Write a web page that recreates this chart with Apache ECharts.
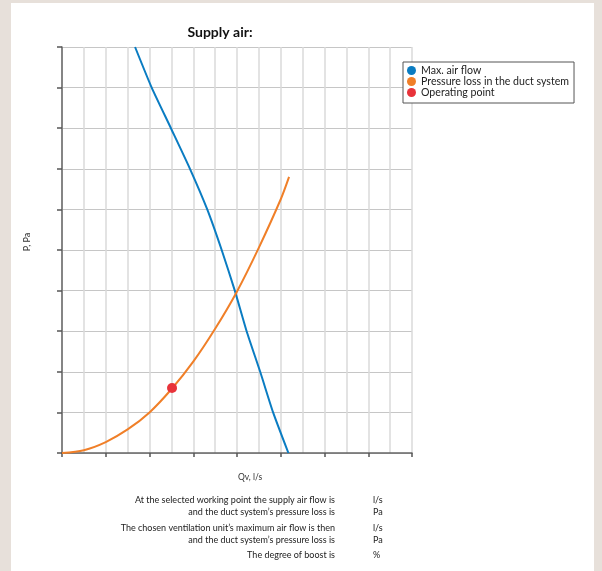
<!DOCTYPE html>
<html>
<head>
<meta charset="utf-8">
<script src="https://cdn.jsdelivr.net/npm/echarts@6/dist/echarts.min.js"></script>
<style>
html,body{margin:0;padding:0;background:#e7e0da;}
#chart{width:602px;height:571px;}
</style>
</head>
<body>
<div id="chart"></div>
<script>
// Data (axis units: grid cells; no numeric labels shown)
const maxFlowQ = [3.34, 4.10, 4.98, 5.85, 6.64, 7.30, 7.90, 8.44, 9.06, 9.65, 10.35];
const maxFlowP = [10, 9, 8, 7, 6, 5, 4, 3, 2, 1, 0];
const lossQ = [0, 1, 2, 3, 4, 5, 6, 7, 8, 9, 10, 10.38];
const lossP = [0, 0.07, 0.27, 0.58, 1.0, 1.57, 2.25, 3.06, 3.98, 5.06, 6.25, 6.8];
const opQ = [5.03];
const opP = [1.6];
const seriesNames = ['Max. air flow', 'Pressure loss in the duct system', 'Operating point'];
const infoLines = [
  'At the selected working point the supply air flow is',
  'and the duct system\u2019s pressure loss is',
  'The chosen ventilation unit\u2019s maximum air flow is then',
  'and the duct system\u2019s pressure loss is',
  'The degree of boost is'
];
const infoUnits = ['l/s', 'Pa', 'l/s', 'Pa', '%'];

const FONT = 'Lato, "Noto Sans", sans-serif';
const zip = (a, b) => a.map((v, i) => [v, b[i]]);
const infoY = [500.5, 512, 528, 540, 555];

const graphics = [
  { type: 'rect', shape: { x: 11, y: 3, width: 583, height: 570 }, style: { fill: '#ffffff' }, z: -10, silent: true },
  { type: 'text', x: 220, y: 32, style: { text: 'Supply air:', font: 'bold 14px ' + FONT, fill: '#111', align: 'center', verticalAlign: 'middle' } },
  { type: 'text', x: 250, y: 477, style: { text: 'Qv, l/s', font: '8.5px ' + FONT, fill: '#333', align: 'center', verticalAlign: 'middle' } },
  { type: 'text', x: 27, y: 242, rotation: Math.PI / 2, style: { text: 'P, Pa', font: '9px ' + FONT, fill: '#333', align: 'center', verticalAlign: 'middle' } }
];
infoLines.forEach((t, i) => {
  graphics.push({ type: 'text', x: 335, y: infoY[i], style: { text: t, font: '9px ' + FONT, fill: '#222', align: 'right', verticalAlign: 'middle' } });
  graphics.push({ type: 'text', x: 373, y: infoY[i], style: { text: infoUnits[i], font: '9px ' + FONT, fill: '#222', align: 'left', verticalAlign: 'middle' } });
});

const chart = echarts.init(document.getElementById('chart'), null, { renderer: 'canvas' });
chart.setOption({
  backgroundColor: '#e7e0da',
  animation: false,
  textStyle: { fontFamily: FONT },
  graphic: graphics,
  grid: { left: 62, top: 47, width: 350, height: 406, containLabel: false },
  legend: {
    orient: 'vertical',
    left: 403, top: 62,
    icon: 'circle',
    itemWidth: 9, itemHeight: 9, itemGap: 0,
    padding: [3, 5, 5, 4],
    borderColor: '#555', borderWidth: 1, borderRadius: 0,
    backgroundColor: '#fff',
    textStyle: { fontSize: 10.6, color: '#222', lineHeight: 10, fontFamily: FONT },
    data: seriesNames
  },
  xAxis: {
    type: 'value', min: 0, max: 16, interval: 2,
    axisLine: { show: true, onZero: false, lineStyle: { color: '#666', width: 1.5 } },
    axisTick: { show: true, length: 4, lineStyle: { color: '#555', width: 1.5 } },
    axisLabel: { show: false },
    splitLine: { show: true, lineStyle: { color: '#dadada', width: 1.5 } },
    minorTick: { show: false, splitNumber: 2 },
    minorSplitLine: { show: true, lineStyle: { color: '#dadada', width: 1.5 } }
  },
  yAxis: {
    type: 'value', min: 0, max: 10, interval: 1,
    axisLine: { show: true, onZero: false, lineStyle: { color: '#666', width: 1.5 } },
    axisTick: { show: true, length: 5, lineStyle: { color: '#555', width: 1.5 } },
    axisLabel: { show: false },
    splitLine: { show: true, lineStyle: { color: '#c6c6c6', width: 1 } }
  },
  series: [
    { name: seriesNames[0], type: 'line', data: zip(maxFlowQ, maxFlowP), smooth: 0.2, showSymbol: false,
      color: '#0a7cc2', lineStyle: { width: 2, color: '#0a7cc2' }, z: 3 },
    { name: seriesNames[1], type: 'line', data: zip(lossQ, lossP), smooth: 0.3, showSymbol: false,
      color: '#f07f28', lineStyle: { width: 2, color: '#f07f28' }, z: 3 },
    { name: seriesNames[2], type: 'scatter', data: zip(opQ, opP), symbol: 'circle', symbolSize: 10,
      color: '#e8333a', itemStyle: { color: '#e8333a', opacity: 1 }, z: 5 }
  ]
});
</script>
</body>
</html>
